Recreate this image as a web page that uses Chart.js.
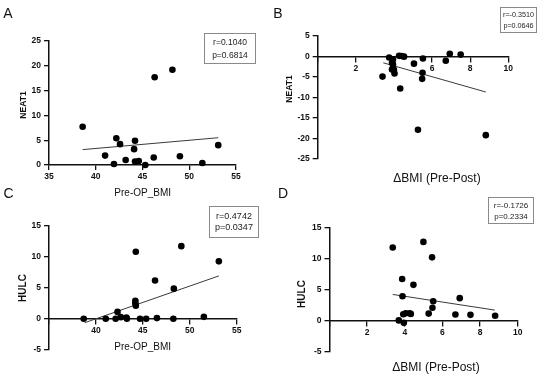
<!DOCTYPE html>
<html>
<head>
<meta charset="utf-8">
<script src="https://cdn.jsdelivr.net/npm/chart.js@4"></script>
<style>
  html, body { margin:0; padding:0; background:#fff; }
  #wrap { position:relative; width:550px; height:377px; background:#fff; overflow:hidden;
          font-family:"Liberation Sans", Arial, sans-serif; color:#111; }
  .panel { position:absolute; }
  .t { position:absolute; white-space:nowrap; transform:translate(-50%,-50%); line-height:1; }
  .rot { transform:translate(-50%,-50%) rotate(-90deg); font-weight:bold; }
  .box { position:absolute; border:1px solid #8a8a8a; box-sizing:border-box; display:flex;
         flex-direction:column; justify-content:center; align-items:center; color:#222; }
</style>
</head>
<body>
<div id="wrap">
  <div class="panel" style="left:0;top:0;width:275px;height:188px"><canvas id="cA" width="275" height="188"></canvas></div>
  <div class="panel" style="left:275px;top:0;width:275px;height:188px"><canvas id="cB" width="275" height="188"></canvas></div>
  <div class="panel" style="left:0;top:188px;width:275px;height:189px"><canvas id="cC" width="275" height="189"></canvas></div>
  <div class="panel" style="left:275px;top:188px;width:275px;height:189px"><canvas id="cD" width="275" height="189"></canvas></div>

  <div class="t" style="left:8px;top:13px;font-size:14px">A</div>
  <div class="t" style="left:278px;top:12.5px;font-size:14px">B</div>
  <div class="t" style="left:8.5px;top:193px;font-size:14px">C</div>
  <div class="t" style="left:283px;top:193px;font-size:14px">D</div>

  <div class="t" style="left:142.7px;top:192.5px;font-size:10px">Pre-OP_BMI</div>
  <div class="t" style="left:142.7px;top:346.5px;font-size:10px">Pre-OP_BMI</div>
  <div class="t" style="left:437px;top:178px;font-size:12px">ΔBMI (Pre-Post)</div>
  <div class="t" style="left:436px;top:366.5px;font-size:12px">ΔBMI (Pre-Post)</div>

  <div class="t rot" style="left:22.5px;top:105px;font-size:8.5px">NEAT1</div>
  <div class="t rot" style="left:289px;top:89px;font-size:8.5px">NEAT1</div>
  <div class="t rot" style="left:23px;top:288px;font-size:10px">HULC</div>
  <div class="t rot" style="left:302px;top:293.5px;font-size:10px">HULC</div>

  <div class="box" style="left:204px;top:33px;width:52px;height:31px;font-size:8.5px;line-height:12.5px"><div>r=0.1040</div><div>p=0.6814</div></div>
  <div class="box" style="left:500px;top:7px;width:37px;height:26px;font-size:7.2px;line-height:11px"><div>r=-0.3510</div><div>p=0.0646</div></div>
  <div class="box" style="left:209px;top:206px;width:50px;height:32px;font-size:9px;line-height:11.5px"><div>r=0.4742</div><div>p=0.0347</div></div>
  <div class="box" style="left:488px;top:197px;width:46px;height:27px;font-size:8px;line-height:11px"><div>r=-0.1726</div><div>p=0.2334</div></div>
</div>

<script>
// ---- Panel A: NEAT1 vs Pre-OP_BMI ----
const aPreOpBmi = [38.6, 42.2, 42.6, 44.2, 44.1, 41.0, 41.95, 43.2, 44.2, 44.6, 45.3, 46.2, 46.3, 48.2, 49.0, 51.4, 53.1];
const aNeat1    = [7.7, 5.4, 4.2, 4.9, 3.2, 1.9, 0.2, 1.0, 0.7, 0.8, 0.0, 1.5, 17.7, 19.2, 1.75, 0.4, 4.0];
const aTrendX = [38.6, 53.1];
const aTrendY = [3.1, 5.5];

// ---- Panel B: NEAT1 vs ΔBMI ----
const bDeltaBmi = [3.4, 3.75, 3.95, 3.9, 3.95, 3.9, 4.0, 4.03, 4.33, 4.27, 4.4, 4.53, 5.05, 5.26, 5.52, 5.5, 5.48, 6.72, 6.93, 7.5, 8.82];
const bNeat1    = [-4.95, -0.3, -0.8, -1.6, -2.0, -3.2, -3.3, -4.2, -7.85, 0.1, 0.05, -0.1, -1.8, -17.9, -0.55, -4.0, -5.5, -1.1, 0.6, 0.4, -19.2];
const bTrendX = [3.44, 8.82];
const bTrendY = [-1.6, -8.7];

// ---- Panel C: HULC vs Pre-OP_BMI ----
const cPreOpBmi = [38.7, 41.05, 42.1, 42.3, 42.65, 43.25, 43.3, 44.25, 44.2, 44.2, 44.25, 44.7, 45.35, 46.3, 46.5, 48.25, 48.3, 49.1, 51.5, 53.1];
const cHulc     = [0, 0, 0, 1.1, 0.25, 0.2, 0, 10.8, 2.9, 2.5, 2.1, 0, 0, 6.15, 0.1, 0, 4.85, 11.7, 0.3, 9.25];
const cTrendX = [38.8, 53.1];
const cTrendY = [-0.65, 6.9];

// ---- Panel D: HULC vs ΔBMI ----
const dDeltaBmi = [3.36, 4.99, 5.45, 3.86, 4.46, 3.88, 5.51, 6.92, 5.47, 3.92, 4.05, 4.25, 4.32, 5.27, 6.69, 7.49, 8.8, 3.68, 3.95];
const dHulc     = [11.8, 12.7, 10.2, 6.7, 5.75, 3.9, 3.1, 3.6, 2.05, 1.0, 1.15, 1.15, 1.05, 1.1, 0.95, 0.9, 0.75, 0.0, -0.4];
const dTrendX = [3.36, 8.78];
const dTrendY = [4.2, 1.67];

// ---- axis ranges / ticks ----
const bmiAxis   = { min: 35, max: 55, step: 5 };
const deltaAxis = { min: 0, max: 10, step: 2 };
const neatAxisA = { min: 0, max: 25, step: 5 };
const neatAxisB = { min: -25, max: 5, step: 5 };
const hulcAxis  = { min: -5, max: 15, step: 5 };

const FONT = '"Liberation Sans", Arial, sans-serif';
const tickFont = { family: FONT, size: 8.5, weight: 'bold' };

function pts(xs, ys) { return xs.map((x, i) => ({ x: x, y: ys[i] })); }

function axisStyle() {
  return {
    grid: { display: true, drawOnChartArea: false, drawTicks: true, tickLength: 5, color: '#111', lineWidth: 1.3 },
    border: { display: true, color: '#111', width: 1.5 }
  };
}

function makePanel(id, o) {
  const xs = axisStyle(), ys = axisStyle();
  new Chart(document.getElementById(id), {
    type: 'scatter',
    data: {
      datasets: [
        { data: pts(o.xs, o.ys), backgroundColor: '#000', borderColor: '#000',
          pointRadius: 3.3, pointBorderWidth: 0, clip: false },
        { data: pts(o.tx, o.ty), showLine: true, borderColor: '#3a3a3a', borderWidth: 1,
          pointRadius: 0, fill: false, clip: false }
      ]
    },
    options: {
      responsive: false, animation: false, events: [],
      layout: { padding: o.pad },
      plugins: { legend: { display: false }, tooltip: { enabled: false } },
      scales: {
        x: {
          type: 'linear', position: o.xPos, min: o.xa.min, max: o.xa.max,
          ticks: { stepSize: o.xa.step, font: tickFont, color: '#111', padding: 2,
                   autoSkip: false, maxRotation: 0,
                   callback: (v, i) => (o.hideFirstX && i === 0) ? '' : v },
          grid: xs.grid, border: xs.border,
          afterFit: s => { s.height = 20; }
        },
        y: {
          type: 'linear', position: 'left', min: o.ya.min, max: o.ya.max,
          ticks: { stepSize: o.ya.step, font: tickFont, color: '#111', padding: 3, autoSkip: false },
          grid: ys.grid, border: ys.border,
          afterFit: s => { s.width = 30; }
        }
      }
    }
  });
}

makePanel('cA', { xs: aPreOpBmi, ys: aNeat1, tx: aTrendX, ty: aTrendY,
  xa: bmiAxis, ya: neatAxisA, xPos: 'bottom', hideFirstX: false,
  pad: { left: 19, right: 39, top: 41, bottom: 3 } });

makePanel('cB', { xs: bDeltaBmi, ys: bNeat1, tx: bTrendX, ty: bTrendY,
  xa: deltaAxis, ya: neatAxisB, xPos: { y: 0 }, hideFirstX: true,
  pad: { left: 12.7, right: 41.7, top: 35.7, bottom: 29 } });

makePanel('cC', { xs: cPreOpBmi, ys: cHulc, tx: cTrendX, ty: cTrendY,
  xa: bmiAxis, ya: hulcAxis, xPos: { y: 0 }, hideFirstX: true,
  pad: { left: 19, right: 38.3, top: 37.7, bottom: 27.3 } });

makePanel('cD', { xs: dDeltaBmi, ys: dHulc, tx: dTrendX, ty: dTrendY,
  xa: deltaAxis, ya: hulcAxis, xPos: { y: 0 }, hideFirstX: true,
  pad: { left: 24.5, right: 32.3, top: 39.7, bottom: 25.7 } });
</script>
</body>
</html>
